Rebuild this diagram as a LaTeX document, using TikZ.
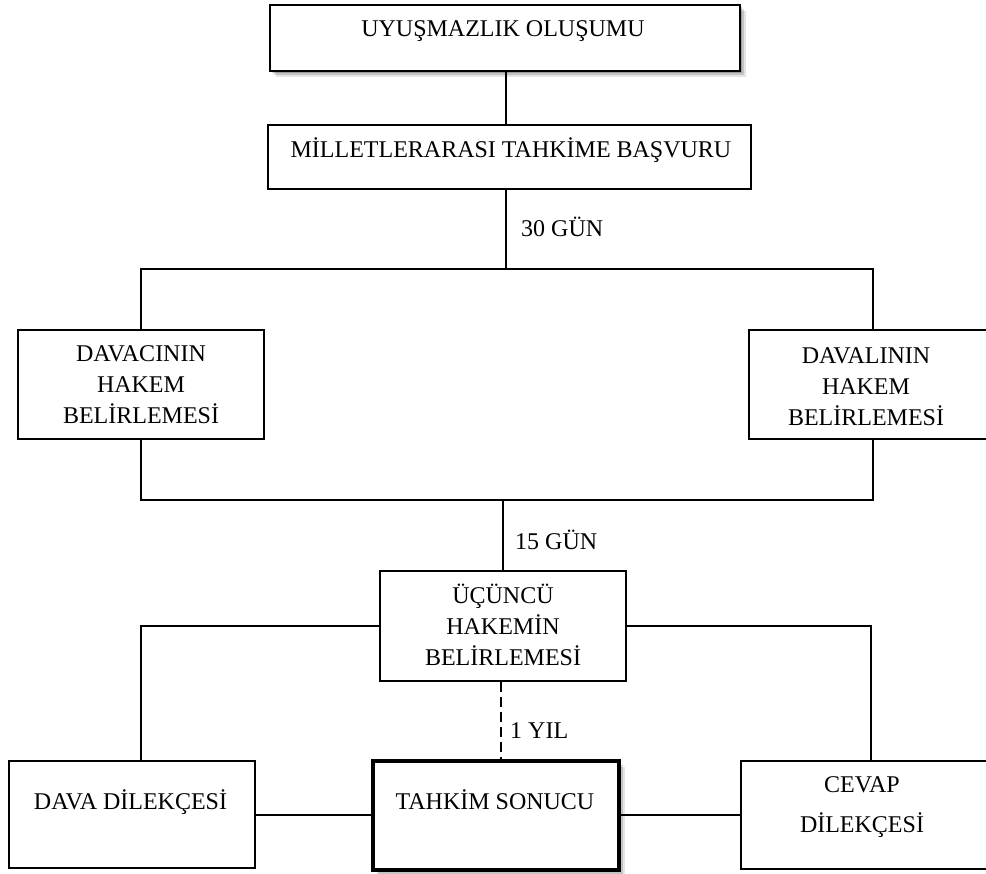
\documentclass[tikz,border=0pt]{standalone}
\usepackage{fontspec}
\setmainfont{Liberation Serif}
\usetikzlibrary{shadows}
\begin{document}
\begin{tikzpicture}[x=1pt,y=-1pt,
  font=\fontsize{24}{31}\selectfont,
  box/.style={draw, line width=2pt, fill=white, inner sep=0pt},
  finalbox/.style={box, line width=4pt},
  softshadow/.style={
    drop shadow={shadow xshift=6pt, shadow yshift=-6pt, fill=black, opacity=0.10},
    drop shadow={shadow xshift=4pt, shadow yshift=-4pt, fill=black, opacity=0.15},
    drop shadow={shadow xshift=2pt, shadow yshift=-2pt, fill=black, opacity=0.20}},
  txt/.style={inner sep=0pt, align=center},
  conn/.style={line width=2pt},
  dashconn/.style={line width=2pt, dash pattern=on 10pt off 5pt}]
\useasboundingbox (0,0) rectangle (986,874);

% boxes
\node[box, softshadow, minimum width=470pt, minimum height=66pt] (b1) at (505,38) {};
\node[box, minimum width=483pt, minimum height=64pt] (b2) at (509.5,157) {};
\node[box, minimum width=246pt, minimum height=109pt] (b3) at (141,384.5) {};
\node[box, minimum width=248pt, minimum height=109pt] (b4) at (873,384.5) {};
\node[box, minimum width=246pt, minimum height=110pt] (b5) at (503,626) {};
\node[box, minimum width=246pt, minimum height=107pt] (b6) at (132,814.5) {};
\node[finalbox, softshadow, minimum width=246pt, minimum height=109pt] (b7) at (496,815.5) {};
\node[box, minimum width=260pt, minimum height=108pt] (b8) at (871,815) {};

% box texts
\node[txt, anchor=base] (t1) at (503,37) {UYUŞMAZLIK OLUŞUMU};
\node[txt, anchor=base] (t2) at (511,158) {MİLLETLERARASI TAHKİME BAŞVURU};
\node[txt] (t3) at (141,385) {DAVACININ\\HAKEM\\BELİRLEMESİ};
\node[txt] (t4) at (866,387) {DAVALININ\\HAKEM\\BELİRLEMESİ};
\node[txt] (t5) at (503,624.5) {ÜÇÜNCÜ\\HAKEMİN\\BELİRLEMESİ};
\node[txt, anchor=base] (t6) at (130.5,809) {DAVA DİLEKÇESİ};
\node[txt, anchor=base] (t7) at (495,809) {TAHKİM SONUCU};
\node[txt, font=\fontsize{24}{40}\selectfont] (t8) at (862,807.5) {CEVAP\\DİLEKÇESİ};

% connector labels
\node[txt, anchor=base west] (l30) at (521,237) {30 GÜN};
\node[txt, anchor=base west] (l15) at (515,549) {15 GÜN};
\node[txt, anchor=base west] (l1) at (510,738) {1 YIL};

% junctions
\coordinate (j1) at (506,269);
\coordinate (j2) at (503,500);

% connectors
\draw[conn] (b1.south -| j1) -- (b2.north -| j1);
\draw[conn] (b2.south -| j1) -- (j1);
\draw[conn] (b3.north) |- (j1) -| (b4.north);
\draw[conn] (b3.south) |- (j2) -| (b4.south);
\draw[conn] (j2) -- (b5.north);
\draw[conn] (b5.west) -| (b6.north -| b3.south);
\draw[conn] (b5.east) -| (b8.north);
\draw[conn] (b6.east) -- (b7.west |- b6.east);
\draw[conn] (b7.east |- b8.west) -- (b8.west);
\draw[dashconn] ([xshift=-2pt]b5.south) -- ([xshift=-2pt]b5.south |- b7.north);
\end{tikzpicture}
\end{document}
